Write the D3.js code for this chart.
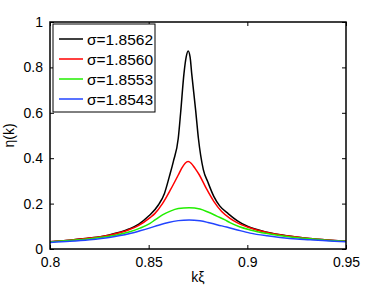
<!DOCTYPE html>
<html>
<head>
<meta charset="utf-8">
<script src="https://cdn.jsdelivr.net/npm/d3@7"></script>
<style>
  body { margin: 0; background: #fff; }
  text { font-family: "Liberation Sans", Arial, sans-serif; }
</style>
</head>
<body>
<div id="chart"></div>
<script>
// Series data: [kξ, η(k)]
const sigmaLabels = ['σ=1.8562', 'σ=1.8560', 'σ=1.8553', 'σ=1.8543'];
const seriesColors = ['#000000', '#ff0000', '#22ee00', '#2244ff'];

const black = [[0.800,0.032],[0.810,0.039],[0.820,0.048],[0.830,0.062],[0.840,0.088],[0.845,0.110],
    [0.850,0.145],[0.855,0.195],[0.858,0.245],[0.8605,0.320],[0.8625,0.385],[0.8650,0.488],
    [0.8662,0.600],[0.8679,0.774],[0.8690,0.845],[0.8700,0.872],[0.8710,0.845],[0.8718,0.774],
    [0.8738,0.612],[0.8752,0.488],[0.8777,0.350],[0.8800,0.295],[0.8830,0.232],[0.8860,0.190],
    [0.8904,0.155],[0.895,0.124],[0.900,0.100],[0.910,0.074],[0.920,0.058],[0.930,0.047],
    [0.940,0.040],[0.950,0.034]];
const red = [[0.800,0.032],[0.810,0.039],[0.820,0.048],[0.830,0.061],[0.840,0.085],[0.845,0.104],
    [0.8507,0.138],[0.8532,0.157],[0.857,0.200],[0.8610,0.260],[0.8650,0.326],[0.8667,0.355],
    [0.8685,0.378],[0.8700,0.385],[0.8715,0.378],[0.8735,0.355],[0.8757,0.326],[0.8790,0.270],
    [0.8830,0.210],[0.8870,0.165],[0.8912,0.135],[0.895,0.115],[0.900,0.097],[0.910,0.073],
    [0.920,0.058],[0.930,0.047],[0.940,0.040],[0.950,0.034]];
const green = [[0.800,0.031],[0.810,0.037],[0.820,0.045],[0.830,0.056],[0.840,0.075],[0.8456,0.092],
    [0.8507,0.113],[0.8532,0.128],[0.857,0.150],[0.861,0.167],[0.865,0.178],[0.8705,0.182],
    [0.876,0.176],[0.880,0.163],[0.8845,0.145],[0.8887,0.128],[0.8912,0.116],[0.896,0.098],
    [0.9014,0.084],[0.910,0.068],[0.920,0.055],[0.930,0.046],[0.940,0.039],[0.950,0.034]];
const blue = [[0.800,0.029],[0.810,0.034],[0.820,0.041],[0.830,0.051],[0.840,0.067],[0.8456,0.080],
    [0.8507,0.093],[0.855,0.105],[0.860,0.117],[0.865,0.125],[0.8705,0.128],[0.876,0.124],
    [0.880,0.117],[0.885,0.106],[0.8895,0.097],[0.895,0.084],[0.9014,0.070],[0.910,0.058],
    [0.9166,0.051],[0.925,0.044],[0.9318,0.041],[0.940,0.036],[0.950,0.032]];
const allSeries = [black, red, green, blue];

const xTicks = [0.8, 0.85, 0.9, 0.95];
const yTicks = [0, 0.2, 0.4, 0.6, 0.8, 1];

// Plot box
const margin = {top: 22, right: 36, bottom: 38, left: 50};
const width = 382 - margin.left - margin.right;
const height = 287 - margin.top - margin.bottom;

const svg = d3.select("#chart")
    .append("svg")
    .attr("width", 382)
    .attr("height", 287)
    .append("g")
    .attr("transform", `translate(${margin.left},${margin.top})`);

const x = d3.scaleLinear().domain([0.8, 0.95]).range([0, width]);
const y = d3.scaleLinear().domain([0, 1]).range([height, 0]);

svg.append("clipPath").attr("id", "clip")
    .append("rect").attr("width", width).attr("height", height);

const line = d3.line()
    .x(d => x(d[0]))
    .y(d => y(d[1]))
    .curve(d3.curveMonotoneX);

allSeries.forEach((s, i) => {
    svg.append("path")
        .datum(s)
        .attr("clip-path", "url(#clip)")
        .attr("d", line)
        .style("fill", "none")
        .style("stroke", seriesColors[i])
        .style("stroke-width", 1.5);
});

// Axes, MATLAB style: ticks inward on all four sides
const fmt = d => d === 0 ? "0" : d === 1 ? "1" : String(d);
const tickLen = 4;

svg.append("g")
    .attr("transform", `translate(0,${height})`)
    .call(d3.axisBottom(x).tickValues(xTicks).tickFormat(fmt).tickSizeInner(-tickLen).tickSizeOuter(0).tickPadding(8))
    .call(g => g.selectAll("text").style("font-size", "14px").attr("fill", "#000"));
svg.append("g")
    .call(d3.axisTop(x).tickValues(xTicks).tickFormat("").tickSizeInner(-tickLen).tickSizeOuter(0));
svg.append("g")
    .call(d3.axisLeft(y).tickValues(yTicks).tickFormat(fmt).tickSizeInner(-tickLen).tickSizeOuter(0).tickPadding(7))
    .call(g => g.selectAll("text").style("font-size", "14px").attr("fill", "#000"));
svg.append("g")
    .attr("transform", `translate(${width},0)`)
    .call(d3.axisRight(y).tickValues(yTicks).tickFormat("").tickSizeInner(-tickLen).tickSizeOuter(0));

svg.selectAll(".domain").remove();
svg.selectAll(".tick line").attr("stroke", "#000").attr("stroke-width", 1);

svg.append("rect")
    .attr("width", width)
    .attr("height", height)
    .style("fill", "none")
    .style("stroke", "#000")
    .style("stroke-width", 1.5);

// Axis labels
svg.append("text")
    .attr("x", width / 2)
    .attr("y", height + 33)
    .attr("text-anchor", "middle")
    .style("font-size", "14px")
    .text("kξ");

svg.append("text")
    .attr("transform", `translate(${-36},${height / 2}) rotate(-90)`)
    .attr("text-anchor", "middle")
    .style("font-size", "14px")
    .text("η(k)");

// Legend
const legend = svg.append("g").attr("transform", "translate(3,2)");
legend.append("rect")
    .attr("width", 102)
    .attr("height", 88)
    .style("fill", "#fff")
    .style("stroke", "#000")
    .style("stroke-width", 1);

const item = legend.selectAll(".legend")
    .data(sigmaLabels)
    .enter().append("g")
    .attr("class", "legend")
    .attr("transform", (d, i) => `translate(0,${15 + i * 20})`);

item.append("line")
    .attr("x1", 6).attr("x2", 30)
    .style("stroke", (d, i) => seriesColors[i])
    .style("stroke-width", 1.5);

item.append("text")
    .attr("x", 34)
    .attr("dy", "0.36em")
    .style("font-size", "15.5px")
    .text(d => d);
</script>
</body>
</html>
